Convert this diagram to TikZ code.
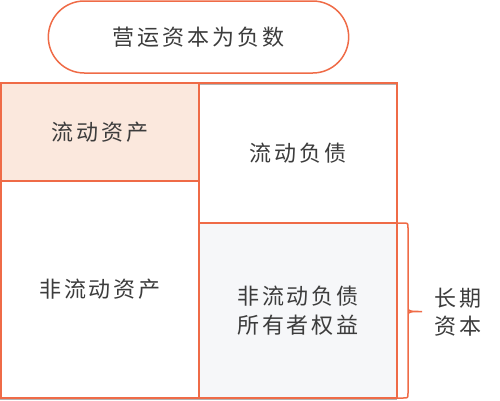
\documentclass[tikz,border=0pt]{standalone}
\usepackage{fontspec}
\usepackage{tikz}
\usetikzlibrary{positioning}
\usetikzlibrary{calc}
\usetikzlibrary{shapes.misc}
\newfontfamily\cjk{Noto Sans CJK SC}[LetterSpace=13]
\definecolor{brandorange}{HTML}{EF6B47}
\definecolor{framegray}{HTML}{B3B3B3}
\definecolor{peachfill}{HTML}{FBE8DD}
\definecolor{mistfill}{HTML}{F6F7F9}
\definecolor{inkgray}{HTML}{3C3C3C}
\tikzset{
    every node/.style={font=\cjk\fontsize{22}{29}\selectfont, text=inkgray, outer sep=0pt},
    sheetbox/.style={draw=brandorange, line width=1.5pt, minimum width=198pt, align=center},
}

\begin{document}
\begin{tikzpicture}[x=1pt,y=1pt]
    \useasboundingbox (0,0) rectangle (500,-400);
    \node[rounded rectangle, draw=brandorange, line width=1.5pt,
          minimum width=307pt, minimum height=72pt] (title) at (198.5,-37) {营运资本为负数};
    % gray frame under the balance sheet
    \draw[framegray, line width=1.5pt] (0.75,-84.5) rectangle (396.5,-399.25);
    \node[sheetbox, fill=peachfill, minimum height=98pt] (ca) at (100,-132) {流动资产};
    \node[sheetbox, fill=white, minimum height=217pt, below=0pt of ca] (nca) {非流动资产};
    \node[sheetbox, minimum height=140pt, anchor=north west] (cl) at (ca.north east) {流动负债};
    \node[sheetbox, fill=mistfill, minimum height=175pt, below=0pt of cl] (ncl) {非流动负债\\所有者权益};
    \node[align=center, font=\cjk\fontsize{22}{28}\selectfont] (ltc) at (458,-312) {长期\\资本};
    \draw[brandorange, line width=1.5pt]
        (ncl.north east) -- ($(ncl.north east)+(6,0)$)
        .. controls ($(ncl.north east)+(11,0)$) .. ($(ncl.north east)+(11,-5)$)
        -- ($(ncl.east)+(11,-4)$)
        .. controls ($(ncl.east)+(11,-1)$) and ($(ncl.east)+(15,-1)$) .. ($(ncl.east)+(25,-1)$)
        .. controls ($(ncl.east)+(15,-1)$) and ($(ncl.east)+(11,-1)$) .. ($(ncl.east)+(11,2)$)
        -- ($(ncl.south east)+(11,5)$)
        .. controls ($(ncl.south east)+(11,0)$) .. ($(ncl.south east)+(6,0)$)
        -- (ncl.south east);
\end{tikzpicture}
\end{document}
